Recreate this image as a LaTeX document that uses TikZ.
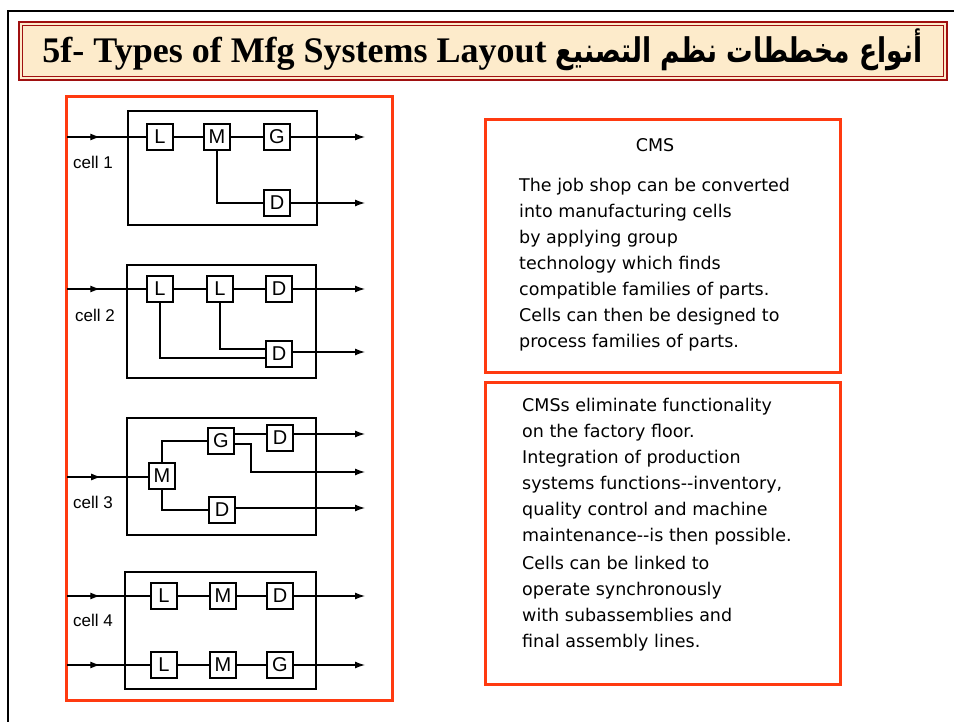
\documentclass[tikz,border=0pt]{standalone}
\usepackage{fontspec}
\setmainfont{Liberation Serif}
\setsansfont{Liberation Sans}
\newfontfamily\arabicfont[Script=Arabic, FakeStretch=0.78]{DejaVu Sans}
\newfontfamily\bodyfont{DejaVu Sans}
\TeXXeTstate=1
\usetikzlibrary{arrows.meta,decorations.markings}
\definecolor{redline}{RGB}{255,58,16}
\definecolor{bannerfill}{RGB}{253,235,203}
\definecolor{bannerline}{RGB}{160,16,16}
\tikzset{
  cellframe/.style={draw, line width=1.5pt, inner sep=0pt},
  mach/.style={draw, fill=white, line width=1.4pt, minimum size=26pt, inner sep=0pt, font=\sffamily\fontsize{20}{20}\selectfont},
  flow/.style={line width=1.3pt},
  endarrow/.style={-{Latex[length=10pt,width=7pt]}},
  midarrow/.style={postaction={decorate}, decoration={markings, mark=at position #1 with {\arrow{Latex[length=10pt,width=7pt]}}}},
  midarrow/.default=0.4,
  celllabel/.style={anchor=west, inner sep=0pt, font=\sffamily\fontsize{17}{17}\selectfont},
  redbox/.style={draw=redline, line width=3pt},
  bodytext/.style={anchor=north west, inner sep=0pt, align=left, font=\bodyfont\fontsize{17.5}{26}\selectfont}
}
\begin{document}
\begin{tikzpicture}[x=1pt,y=-1pt]
\useasboundingbox (0,0) rectangle (954,722);
% outer frame
\coordinate (fa) at (8,740);
\coordinate (fb) at (8,11);
\coordinate (fc) at (970,11);
\draw[line width=2.2pt] (fa) -- (fb) -- (fc);
% banner
\node[draw=bannerline, fill=bannerfill, line width=1.5pt, minimum width=928pt, minimum height=58pt] (banner) at (483,51) {};
\node[draw=bannerline, line width=1pt, minimum width=921pt, minimum height=51pt] (bannerin) at (483,51) {};
\node[anchor=base, inner sep=0pt] (title) at (482.5,63) {\fontsize{36}{40}\selectfont\bfseries 5f- Types of Mfg Systems Layout {\arabicfont\bfseries\fontsize{34}{40}\selectfont\beginR أنواع مخططات نظم التصنيع\endR}};
% red boxes
\node[redbox, minimum width=326pt, minimum height=603pt] (left) at (229,398.5) {};
\node[redbox, minimum width=355pt, minimum height=252pt] (r1) at (662.5,246) {};
\node[redbox, minimum width=355pt, minimum height=302pt] (r2) at (662.5,533) {};

% ---- cell 1
\node[cellframe, minimum width=189pt, minimum height=114pt] (c1) at (222.5,168) {};
\node[mach] (c1L) at (160,137) {L};
\node[mach] (c1M) at (217,137) {M};
\node[mach] (c1G) at (277,137) {G};
\node[mach] (c1D) at (277,203) {D};
\coordinate (c1in) at (67,137);
\coordinate (c1o1) at (365,137);
\coordinate (c1o2) at (365,203);
\draw[flow, midarrow=0.42] (c1in) -- (c1L);
\draw[flow] (c1L) -- (c1M);
\draw[flow] (c1M) -- (c1G);
\draw[flow, endarrow] (c1G) -- (c1o1);
\draw[flow] (c1M) |- (c1D);
\draw[flow, endarrow] (c1D) -- (c1o2);
\node[celllabel] (c1t) at (73,162) {cell 1};

% ---- cell 2
\node[cellframe, minimum width=189pt, minimum height=113pt] (c2) at (221.5,321.5) {};
\node[mach] (c2L1) at (160,289) {L};
\node[mach] (c2L2) at (220,289) {L};
\node[mach] (c2D1) at (279,289) {D};
\node[mach] (c2D2) at (279,354) {D};
\coordinate (c2in) at (67,289);
\coordinate (c2o1) at (365,289);
\coordinate (c2o2) at (365,352);
\draw[flow, midarrow=0.42] (c2in) -- (c2L1);
\draw[flow] (c2L1) -- (c2L2);
\draw[flow] (c2L2) -- (c2D1);
\draw[flow, endarrow] (c2D1) -- (c2o1);
\draw[flow] (c2L1) |- ([yshift=-4pt]c2D2.west);
\draw[flow] (c2L2) |- ([yshift=5pt]c2D2.west);
\draw[flow, endarrow] (c2D2.east |- c2o2) -- (c2o2);
\node[celllabel] (c2t) at (75,315) {cell 2};

% ---- cell 3
\node[cellframe, minimum width=189pt, minimum height=117pt] (c3) at (221.5,476.5) {};
\node[mach] (c3M) at (162,476) {M};
\node[mach] (c3G) at (221,441) {G};
\node[mach] (c3Dt) at (280,438) {D};
\node[mach] (c3Db) at (222,510) {D};
\coordinate (c3in) at (67,477);
\coordinate (c3gy) at (0,434);
\coordinate (c3o1) at (365,434);
\coordinate (c3bend) at (251,472);
\coordinate (c3o2) at (365,472);
\coordinate (c3o3) at (365,508);
\draw[flow, midarrow=0.42] (c3in) -- (c3M.west |- c3in);
\draw[flow] (c3M) |- (c3G);
\draw[flow] (c3M) |- (c3Db);
\draw[flow] (c3G.east |- c3gy) -- (c3Dt.west |- c3gy);
\draw[flow, endarrow] (c3Dt.east |- c3gy) -- (c3o1);
\draw[flow, endarrow] ([yshift=-3pt]c3G.east) -| (c3bend) -- (c3o2);
\draw[flow, endarrow] (c3Db.east |- c3o3) -- (c3o3);
\node[celllabel] (c3t) at (73,502) {cell 3};

% ---- cell 4
\node[cellframe, minimum width=191pt, minimum height=117pt] (c4) at (220.5,630.5) {};
\node[mach] (c4L1) at (164,596) {L};
\node[mach] (c4M1) at (223,596) {M};
\node[mach] (c4D1) at (280,596) {D};
\node[mach] (c4L2) at (164,665) {L};
\node[mach] (c4M2) at (223,665) {M};
\node[mach] (c4G2) at (280,665) {G};
\coordinate (c4in1) at (67,596);
\coordinate (c4in2) at (67,665);
\coordinate (c4o1) at (365,596);
\coordinate (c4o2) at (365,665);
\draw[flow, midarrow=0.4] (c4in1) -- (c4L1);
\draw[flow] (c4L1) -- (c4M1);
\draw[flow] (c4M1) -- (c4D1);
\draw[flow, endarrow] (c4D1) -- (c4o1);
\draw[flow, midarrow=0.4] (c4in2) -- (c4L2);
\draw[flow] (c4L2) -- (c4M2);
\draw[flow] (c4M2) -- (c4G2);
\draw[flow, endarrow] (c4G2) -- (c4o2);
\node[celllabel] (c4t) at (73,620) {cell 4};

% ---- right texts
\node[anchor=base, inner sep=0pt, font=\bodyfont\fontsize{17.5}{20}\selectfont] (cms) at (655,152) {CMS};
\node[bodytext] (t1) at (519,178) {The job shop can be converted\\
into manufacturing cells\\
by applying group\\
technology which finds\\
compatible families of parts.\\
Cells can then be designed to\\
process families of parts.};
\node[bodytext] (t2) at (522,398) {CMSs eliminate functionality\\
on the factory floor.\\
Integration of production\\
systems functions--inventory,\\
quality control and machine\\
maintenance--is then possible.\\[2pt]
Cells can be linked to\\
operate synchronously\\
with subassemblies and\\
final assembly lines.};
\end{tikzpicture}
\end{document}
